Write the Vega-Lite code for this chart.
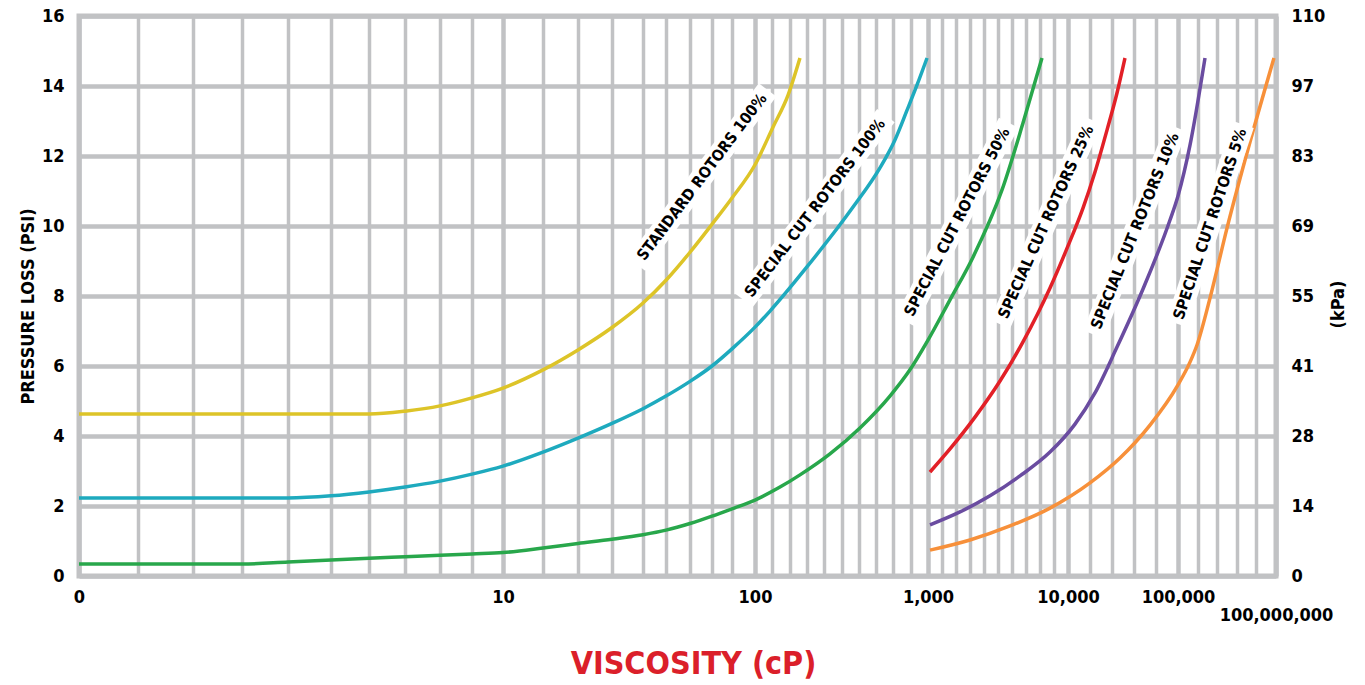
{
  "$schema": "https://vega.github.io/schema/vega-lite/v6.json",
  "width": 1197,
  "height": 560,
  "autosize": "none",
  "padding": {"left": 79, "top": 16, "right": 89, "bottom": 109},
  "background": "white",
  "config": {
    "view": {"stroke": "#c1c2c4", "strokeWidth": 5},
    "font": "Liberation Sans Narrow, Arial Narrow, DejaVu Sans Condensed, sans-serif"
  },
  "datasets": {
    "curves": [
      {"curve": "STANDARD ROTORS 100%", "viscosity": 0, "psi": 4.63},
      {"curve": "STANDARD ROTORS 100%", "viscosity": 6, "psi": 4.63},
      {"curve": "STANDARD ROTORS 100%", "viscosity": 7, "psi": 4.71},
      {"curve": "STANDARD ROTORS 100%", "viscosity": 8, "psi": 4.86},
      {"curve": "STANDARD ROTORS 100%", "viscosity": 9, "psi": 5.09},
      {"curve": "STANDARD ROTORS 100%", "viscosity": 10, "psi": 5.37},
      {"curve": "STANDARD ROTORS 100%", "viscosity": 20, "psi": 5.89},
      {"curve": "STANDARD ROTORS 100%", "viscosity": 30, "psi": 6.46},
      {"curve": "STANDARD ROTORS 100%", "viscosity": 40, "psi": 7.1},
      {"curve": "STANDARD ROTORS 100%", "viscosity": 50, "psi": 7.8},
      {"curve": "STANDARD ROTORS 100%", "viscosity": 60, "psi": 8.45},
      {"curve": "STANDARD ROTORS 100%", "viscosity": 70, "psi": 9.25},
      {"curve": "STANDARD ROTORS 100%", "viscosity": 80, "psi": 10.05},
      {"curve": "STANDARD ROTORS 100%", "viscosity": 90, "psi": 10.8},
      {"curve": "STANDARD ROTORS 100%", "viscosity": 100, "psi": 11.75},
      {"curve": "STANDARD ROTORS 100%", "viscosity": 194, "psi": 12.83},
      {"curve": "STANDARD ROTORS 100%", "viscosity": 272, "psi": 13.74},
      {"curve": "STANDARD ROTORS 100%", "viscosity": 334, "psi": 14.8},

      {"curve": "SPECIAL CUT ROTORS 100%", "viscosity": 0, "psi": 2.23},
      {"curve": "SPECIAL CUT ROTORS 100%", "viscosity": 4, "psi": 2.23},
      {"curve": "SPECIAL CUT ROTORS 100%", "viscosity": 5, "psi": 2.29},
      {"curve": "SPECIAL CUT ROTORS 100%", "viscosity": 6, "psi": 2.4},
      {"curve": "SPECIAL CUT ROTORS 100%", "viscosity": 7, "psi": 2.54},
      {"curve": "SPECIAL CUT ROTORS 100%", "viscosity": 8, "psi": 2.71},
      {"curve": "SPECIAL CUT ROTORS 100%", "viscosity": 9, "psi": 2.91},
      {"curve": "SPECIAL CUT ROTORS 100%", "viscosity": 10, "psi": 3.14},
      {"curve": "SPECIAL CUT ROTORS 100%", "viscosity": 20, "psi": 3.54},
      {"curve": "SPECIAL CUT ROTORS 100%", "viscosity": 30, "psi": 3.94},
      {"curve": "SPECIAL CUT ROTORS 100%", "viscosity": 40, "psi": 4.36},
      {"curve": "SPECIAL CUT ROTORS 100%", "viscosity": 50, "psi": 4.78},
      {"curve": "SPECIAL CUT ROTORS 100%", "viscosity": 60, "psi": 5.14},
      {"curve": "SPECIAL CUT ROTORS 100%", "viscosity": 70, "psi": 5.56},
      {"curve": "SPECIAL CUT ROTORS 100%", "viscosity": 80, "psi": 6.0},
      {"curve": "SPECIAL CUT ROTORS 100%", "viscosity": 90, "psi": 6.49},
      {"curve": "SPECIAL CUT ROTORS 100%", "viscosity": 100, "psi": 7.11},
      {"curve": "SPECIAL CUT ROTORS 100%", "viscosity": 178, "psi": 7.57},
      {"curve": "SPECIAL CUT ROTORS 100%", "viscosity": 370, "psi": 8.83},
      {"curve": "SPECIAL CUT ROTORS 100%", "viscosity": 610, "psi": 10.54},
      {"curve": "SPECIAL CUT ROTORS 100%", "viscosity": 750, "psi": 11.66},
      {"curve": "SPECIAL CUT ROTORS 100%", "viscosity": 828, "psi": 12.46},
      {"curve": "SPECIAL CUT ROTORS 100%", "viscosity": 891, "psi": 13.31},
      {"curve": "SPECIAL CUT ROTORS 100%", "viscosity": 943, "psi": 14.03},
      {"curve": "SPECIAL CUT ROTORS 100%", "viscosity": 995, "psi": 14.8},

      {"curve": "SPECIAL CUT ROTORS 50%", "viscosity": 0, "psi": 0.34},
      {"curve": "SPECIAL CUT ROTORS 50%", "viscosity": 3, "psi": 0.34},
      {"curve": "SPECIAL CUT ROTORS 50%", "viscosity": 4, "psi": 0.4},
      {"curve": "SPECIAL CUT ROTORS 50%", "viscosity": 5, "psi": 0.46},
      {"curve": "SPECIAL CUT ROTORS 50%", "viscosity": 6, "psi": 0.51},
      {"curve": "SPECIAL CUT ROTORS 50%", "viscosity": 7, "psi": 0.55},
      {"curve": "SPECIAL CUT ROTORS 50%", "viscosity": 8, "psi": 0.59},
      {"curve": "SPECIAL CUT ROTORS 50%", "viscosity": 9, "psi": 0.63},
      {"curve": "SPECIAL CUT ROTORS 50%", "viscosity": 10, "psi": 0.67},
      {"curve": "SPECIAL CUT ROTORS 50%", "viscosity": 20, "psi": 0.8},
      {"curve": "SPECIAL CUT ROTORS 50%", "viscosity": 30, "psi": 0.93},
      {"curve": "SPECIAL CUT ROTORS 50%", "viscosity": 40, "psi": 1.05},
      {"curve": "SPECIAL CUT ROTORS 50%", "viscosity": 50, "psi": 1.18},
      {"curve": "SPECIAL CUT ROTORS 50%", "viscosity": 60, "psi": 1.31},
      {"curve": "SPECIAL CUT ROTORS 50%", "viscosity": 70, "psi": 1.5},
      {"curve": "SPECIAL CUT ROTORS 50%", "viscosity": 80, "psi": 1.71},
      {"curve": "SPECIAL CUT ROTORS 50%", "viscosity": 90, "psi": 1.92},
      {"curve": "SPECIAL CUT ROTORS 50%", "viscosity": 100, "psi": 2.17},
      {"curve": "SPECIAL CUT ROTORS 50%", "viscosity": 230, "psi": 2.54},
      {"curve": "SPECIAL CUT ROTORS 50%", "viscosity": 334, "psi": 2.89},
      {"curve": "SPECIAL CUT ROTORS 50%", "viscosity": 490, "psi": 3.49},
      {"curve": "SPECIAL CUT ROTORS 50%", "viscosity": 646, "psi": 4.23},
      {"curve": "SPECIAL CUT ROTORS 50%", "viscosity": 802, "psi": 5.14},
      {"curve": "SPECIAL CUT ROTORS 50%", "viscosity": 906, "psi": 5.89},
      {"curve": "SPECIAL CUT ROTORS 50%", "viscosity": 1000, "psi": 6.74},
      {"curve": "SPECIAL CUT ROTORS 50%", "viscosity": 2414, "psi": 7.89},
      {"curve": "SPECIAL CUT ROTORS 50%", "viscosity": 3893, "psi": 9.11},
      {"curve": "SPECIAL CUT ROTORS 50%", "viscosity": 5757, "psi": 11.03},
      {"curve": "SPECIAL CUT ROTORS 50%", "viscosity": 7107, "psi": 12.94},
      {"curve": "SPECIAL CUT ROTORS 50%", "viscosity": 8329, "psi": 14.8},

      {"curve": "SPECIAL CUT ROTORS 25%", "viscosity": 1129, "psi": 2.97},
      {"curve": "SPECIAL CUT ROTORS 25%", "viscosity": 2414, "psi": 3.63},
      {"curve": "SPECIAL CUT ROTORS 25%", "viscosity": 4021, "psi": 4.54},
      {"curve": "SPECIAL CUT ROTORS 25%", "viscosity": 5629, "psi": 5.57},
      {"curve": "SPECIAL CUT ROTORS 25%", "viscosity": 7107, "psi": 6.69},
      {"curve": "SPECIAL CUT ROTORS 25%", "viscosity": 8843, "psi": 8.23},
      {"curve": "SPECIAL CUT ROTORS 25%", "viscosity": 10000, "psi": 9.43},
      {"curve": "SPECIAL CUT ROTORS 25%", "viscosity": 22273, "psi": 10.51},
      {"curve": "SPECIAL CUT ROTORS 25%", "viscosity": 32091, "psi": 11.54},
      {"curve": "SPECIAL CUT ROTORS 25%", "viscosity": 41909, "psi": 12.74},
      {"curve": "SPECIAL CUT ROTORS 25%", "viscosity": 50091, "psi": 13.8},
      {"curve": "SPECIAL CUT ROTORS 25%", "viscosity": 56636, "psi": 14.8},

      {"curve": "SPECIAL CUT ROTORS 10%", "viscosity": 1129, "psi": 1.46},
      {"curve": "SPECIAL CUT ROTORS 10%", "viscosity": 3057, "psi": 1.83},
      {"curve": "SPECIAL CUT ROTORS 10%", "viscosity": 4986, "psi": 2.29},
      {"curve": "SPECIAL CUT ROTORS 10%", "viscosity": 6914, "psi": 2.86},
      {"curve": "SPECIAL CUT ROTORS 10%", "viscosity": 8843, "psi": 3.54},
      {"curve": "SPECIAL CUT ROTORS 10%", "viscosity": 15727, "psi": 4.34},
      {"curve": "SPECIAL CUT ROTORS 10%", "viscosity": 32091, "psi": 5.23},
      {"curve": "SPECIAL CUT ROTORS 10%", "viscosity": 50091, "psi": 6.54},
      {"curve": "SPECIAL CUT ROTORS 10%", "viscosity": 71364, "psi": 8.2},
      {"curve": "SPECIAL CUT ROTORS 10%", "viscosity": 93455, "psi": 10.17},
      {"curve": "SPECIAL CUT ROTORS 10%", "viscosity": 100000, "psi": 10.86},
      {"curve": "SPECIAL CUT ROTORS 10%", "viscosity": 12332653, "psi": 12.31},
      {"curve": "SPECIAL CUT ROTORS 10%", "viscosity": 27623469, "psi": 14.8},

      {"curve": "SPECIAL CUT ROTORS 5%", "viscosity": 1129, "psi": 0.74},
      {"curve": "SPECIAL CUT ROTORS 5%", "viscosity": 3700, "psi": 1.03},
      {"curve": "SPECIAL CUT ROTORS 5%", "viscosity": 6271, "psi": 1.43},
      {"curve": "SPECIAL CUT ROTORS 5%", "viscosity": 8843, "psi": 1.94},
      {"curve": "SPECIAL CUT ROTORS 5%", "viscosity": 28000, "psi": 2.66},
      {"curve": "SPECIAL CUT ROTORS 5%", "viscosity": 52545, "psi": 3.37},
      {"curve": "SPECIAL CUT ROTORS 5%", "viscosity": 77091, "psi": 4.31},
      {"curve": "SPECIAL CUT ROTORS 5%", "viscosity": 100000, "psi": 5.46},
      {"curve": "SPECIAL CUT ROTORS 5%", "viscosity": 12332653, "psi": 6.11},
      {"curve": "SPECIAL CUT ROTORS 5%", "viscosity": 19468367, "psi": 6.6},
      {"curve": "SPECIAL CUT ROTORS 5%", "viscosity": 32720408, "psi": 7.94},
      {"curve": "SPECIAL CUT ROTORS 5%", "viscosity": 50050000, "psi": 9.94},
      {"curve": "SPECIAL CUT ROTORS 5%", "viscosity": 73495918, "psi": 12.4},
      {"curve": "SPECIAL CUT ROTORS 5%", "viscosity": 97961224, "psi": 14.8}
    ],
    "labels": [
      {"curve": "STANDARD ROTORS 100%", "viscosity": 75.45, "psi": 11.4, "v_start": 47.87, "psi_start": 8.914, "v_end": 165.5, "psi_end": 13.886},
      {"curve": "SPECIAL CUT ROTORS 100%", "viscosity": 412.1, "psi": 10.514, "v_start": 95.26, "psi_start": 7.874, "v_end": 781.0, "psi_end": 13.154},
      {"curve": "SPECIAL CUT ROTORS 50%", "viscosity": 2864.3, "psi": 10.114, "v_start": 881.9, "psi_start": 7.277, "v_end": 6187.9, "psi_end": 12.951},
      {"curve": "SPECIAL CUT ROTORS 25%", "viscosity": 8585.7, "psi": 10.114, "v_start": 5622.1, "psi_start": 7.197, "v_end": 29718, "psi_end": 13.031},
      {"curve": "SPECIAL CUT ROTORS 10%", "viscosity": 64818, "psi": 9.857, "v_start": 30618, "psi_start": 6.903, "v_end": 99018, "psi_end": 12.811},
      {"curve": "SPECIAL CUT ROTORS 5%", "viscosity": 32720408, "psi": 10.057, "v_start": 98936, "psi_start": 7.211, "v_end": 66666633, "psi_end": 12.903}
    ]
  },
  "encoding": {
    "x": {
      "field": "viscosity",
      "type": "quantitative",
      "scale": {
        "type": "linear",
        "nice": false,
        "zero": false,
        "domain": [0, 1, 2, 3, 4, 5, 6, 7, 8, 9, 10, 20, 30, 40, 50, 60, 70, 80, 90, 100, 1000, 10000, 100000, 100000000],
        "range": [0, 59, 114, 163, 209, 252, 290, 326, 361, 393, 424, 464, 499, 533, 564, 587, 611, 633, 653, 676, 849, 989, 1099, 1197]
      },
      "axis": {
        "values": [0, 1, 2, 3, 4, 5, 6, 7, 8, 9, 10, 20, 30, 40, 50, 60, 70, 80, 90, 100, 190, 280, 370, 460, 550, 640, 730, 820, 910, 1000, 1900, 2800, 3700, 4600, 5500, 6400, 7300, 8200, 9100, 10000, 28000, 46000, 64000, 82000, 100000, 20080000, 40060000, 60040000, 80020000, 100000000],
        "labelExpr": "indexof([0, 10, 100, 1000, 10000, 100000, 100000000], datum.value) >= 0 ? format(datum.value, ',') : ''",
        "labelOverlap": false,
        "labelFontSize": 18,
        "labelFontWeight": "bold",
        "labelColor": "black",
        "labelPadding": {"condition": {"test": "datum.value == 100000000", "value": 30}, "value": 12},
        "labelFlush": false,
        "ticks": false,
        "domain": false,
        "grid": true,
        "gridColor": "#c1c2c4",
        "gridOpacity": 1,
        "gridWidth": {"condition": {"test": "indexof([0, 10, 100, 1000, 10000, 100000, 100000000], datum.value) >= 0", "value": 4.5}, "value": 3.5},
        "title": "VISCOSITY (cP)",
        "titleColor": "#db1f2a",
        "titleFontSize": 32,
        "titleFontWeight": "bold",
        "titleX": 614,
        "titleY": 97,
        "titleAlign": "center",
        "titleBaseline": "alphabetic"
      }
    },
    "y": {
      "field": "psi",
      "type": "quantitative",
      "scale": {"domain": [0, 16], "nice": false, "zero": false},
      "axis": null
    }
  },
  "layer": [
    {
      "data": {"name": "curves"},
      "mark": {"type": "line", "interpolate": "monotone", "strokeWidth": 3.5},
      "encoding": {
        "y": {
          "field": "psi",
          "type": "quantitative",
          "scale": {"domain": [0, 16], "nice": false, "zero": false},
          "axis": {
            "orient": "left",
            "values": [0, 2, 4, 6, 8, 10, 12, 14, 16],
            "labelFontSize": 18,
            "labelFontWeight": "bold",
            "labelColor": "black",
            "labelPadding": 15,
            "ticks": false,
            "domain": false,
            "grid": true,
            "gridColor": "#c1c2c4",
            "gridOpacity": 1,
            "gridWidth": 4.5,
            "title": "PRESSURE LOSS (PSI)",
            "titleFontSize": 18,
            "titleFontWeight": "bold",
            "titleColor": "black",
            "titleAngle": 270,
            "titleX": -46,
            "titleY": 290,
            "titleAlign": "center",
            "titleBaseline": "alphabetic"
          }
        },
        "color": {
          "field": "curve",
          "type": "nominal",
          "scale": {
            "domain": ["STANDARD ROTORS 100%", "SPECIAL CUT ROTORS 100%", "SPECIAL CUT ROTORS 50%", "SPECIAL CUT ROTORS 25%", "SPECIAL CUT ROTORS 10%", "SPECIAL CUT ROTORS 5%"],
            "range": ["#ddc428", "#1eaabe", "#28a74b", "#e22027", "#6a4ca0", "#f7903a"]
          },
          "legend": null
        }
      }
    },
    {
      "data": {"name": "curves"},
      "mark": {"type": "point", "opacity": 0},
      "encoding": {
        "y": {
          "field": "psi",
          "type": "quantitative",
          "scale": {"domain": [0, 16], "nice": false, "zero": false},
          "axis": {
            "orient": "right",
            "values": [0, 2, 4, 6, 8, 10, 12, 14, 16],
            "labelExpr": "format(datum.value * 6.895, '.0f')",
            "labelFontSize": 18,
            "labelFontWeight": "bold",
            "labelColor": "black",
            "labelPadding": 15,
            "ticks": false,
            "domain": false,
            "grid": false,
            "title": "(kPa)",
            "titleFontSize": 18,
            "titleFontWeight": "bold",
            "titleColor": "black",
            "titleAngle": 270,
            "titleX": 67,
            "titleY": 288,
            "titleAlign": "center",
            "titleBaseline": "alphabetic"
          }
        }
      }
    },
    {
      "data": {"name": "labels"},
      "mark": {"type": "rule", "color": "white", "strokeWidth": 22, "strokeCap": "butt", "opacity": 1},
      "encoding": {
        "x": {
          "field": "v_start",
          "type": "quantitative",
          "scale": {
            "type": "linear",
            "nice": false,
            "zero": false,
            "domain": [0, 1, 2, 3, 4, 5, 6, 7, 8, 9, 10, 20, 30, 40, 50, 60, 70, 80, 90, 100, 1000, 10000, 100000, 100000000],
            "range": [0, 59, 114, 163, 209, 252, 290, 326, 361, 393, 424, 464, 499, 533, 564, 587, 611, 633, 653, 676, 849, 989, 1099, 1197]
          }
        },
        "x2": {"field": "v_end"},
        "y": {
          "field": "psi_start",
          "type": "quantitative",
          "scale": {"domain": [0, 16], "nice": false, "zero": false},
          "axis": null
        },
        "y2": {"field": "psi_end"}
      }
    },
    {
      "data": {"name": "labels"},
      "transform": [{"filter": "datum.curve == 'STANDARD ROTORS 100%'"}],
      "mark": {"type": "text", "angle": 307, "fontSize": 15.6, "fontWeight": "bold", "color": "black", "align": "center", "baseline": "middle"},
      "encoding": {"text": {"field": "curve"}}
    },
    {
      "data": {"name": "labels"},
      "transform": [{"filter": "datum.curve == 'SPECIAL CUT ROTORS 100%'"}],
      "mark": {"type": "text", "angle": 307.5, "fontSize": 15.6, "fontWeight": "bold", "color": "black", "align": "center", "baseline": "middle"},
      "encoding": {"text": {"field": "curve"}}
    },
    {
      "data": {"name": "labels"},
      "transform": [{"filter": "datum.curve == 'SPECIAL CUT ROTORS 50%'"}],
      "mark": {"type": "text", "angle": 297.5, "fontSize": 15.6, "fontWeight": "bold", "color": "black", "align": "center", "baseline": "middle"},
      "encoding": {"text": {"field": "curve"}}
    },
    {
      "data": {"name": "labels"},
      "transform": [{"filter": "datum.curve == 'SPECIAL CUT ROTORS 25%'"}],
      "mark": {"type": "text", "angle": 294.3, "fontSize": 15.6, "fontWeight": "bold", "color": "black", "align": "center", "baseline": "middle"},
      "encoding": {"text": {"field": "curve"}}
    },
    {
      "data": {"name": "labels"},
      "transform": [{"filter": "datum.curve == 'SPECIAL CUT ROTORS 10%'"}],
      "mark": {"type": "text", "angle": 292, "fontSize": 15.6, "fontWeight": "bold", "color": "black", "align": "center", "baseline": "middle"},
      "encoding": {"text": {"field": "curve"}}
    },
    {
      "data": {"name": "labels"},
      "transform": [{"filter": "datum.curve == 'SPECIAL CUT ROTORS 5%'"}],
      "mark": {"type": "text", "angle": 288.5, "fontSize": 15.6, "fontWeight": "bold", "color": "black", "align": "center", "baseline": "middle"},
      "encoding": {"text": {"field": "curve"}}
    }
  ],
  "resolve": {"axis": {"y": "independent"}}
}
